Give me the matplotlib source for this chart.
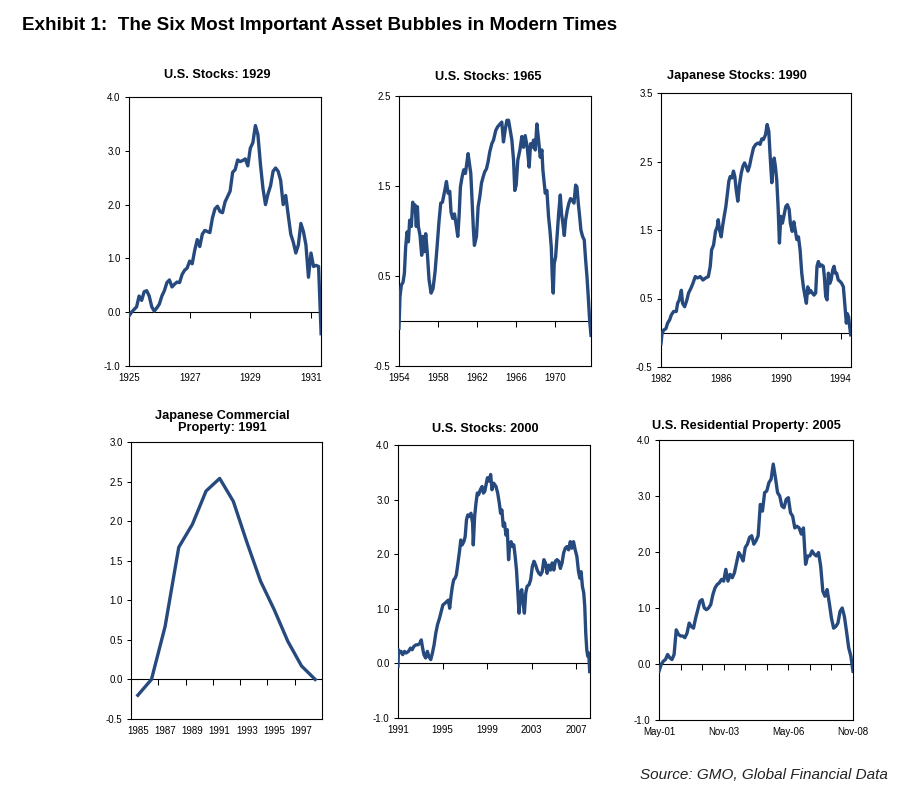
import matplotlib.pyplot as plt
import numpy as np

plt.rcParams['font.family'] = ['Liberation Sans', 'DejaVu Sans']
plt.rcParams['axes.unicode_minus'] = False

LINE = '#264a7e'

# U.S. Stocks: 1929 (monthly, Jan 1925 on)
us1929_start = 1925.0
us1929_vals = [-0.07, 0.0, 0.05, 0.1, 0.3, 0.22, 0.38, 0.4, 0.3, 0.1,
               0.02, 0.08, 0.15, 0.3, 0.4, 0.55, 0.6, 0.47, 0.52, 0.56,
               0.55, 0.7, 0.78, 0.82, 0.95, 0.9, 1.15, 1.35, 1.22, 1.45,
               1.52, 1.5, 1.48, 1.75, 1.92, 1.97, 1.87, 1.85, 2.05, 2.15,
               2.25, 2.6, 2.65, 2.83, 2.8, 2.82, 2.85, 2.72, 3.05, 3.15,
               3.47, 3.3, 2.75, 2.3, 2.0, 2.2, 2.35, 2.62, 2.68, 2.62,
               2.45, 2.0, 2.17, 1.8, 1.45, 1.3, 1.1, 1.25, 1.65, 1.5,
               1.25, 0.65, 1.1, 0.85, 0.87, 0.85, -0.4]

# U.S. Stocks: 1965
us1965_years = [1954.00, 1954.10, 1954.24, 1954.41, 1954.55, 1954.68, 1954.82, 1954.96,
                1955.09, 1955.26, 1955.40, 1955.54, 1955.64, 1955.77, 1955.88, 1955.98,
                1956.15, 1956.32, 1956.46, 1956.59, 1956.73, 1956.90, 1957.07, 1957.28,
                1957.48, 1957.69, 1957.89, 1958.10, 1958.27, 1958.44, 1958.68, 1958.85,
                1959.02, 1959.19, 1959.32, 1959.49, 1959.67, 1959.84, 1960.01, 1960.14,
                1960.28, 1960.45, 1960.62, 1960.79, 1960.93, 1961.06, 1961.20, 1961.34,
                1961.47, 1961.61, 1961.71, 1961.92, 1962.09, 1962.26, 1962.43, 1962.60,
                1962.77, 1962.94, 1963.11, 1963.28,
                1963.49, 1963.66, 1963.90, 1964.10, 1964.34, 1964.51, 1964.68, 1964.85,
                1965.03, 1965.20, 1965.37, 1965.54, 1965.71, 1965.84, 1965.98, 1966.15,
                1966.36, 1966.56, 1966.73, 1966.90, 1967.11, 1967.31, 1967.45, 1967.59,
                1967.76, 1967.93, 1968.10, 1968.27, 1968.44, 1968.61, 1968.71, 1968.85,
                1968.95, 1969.12, 1969.29, 1969.43, 1969.57, 1969.67, 1969.77, 1969.87,
                1970.01, 1970.18, 1970.32, 1970.49, 1970.62, 1970.76, 1970.90, 1971.03,
                1971.20, 1971.37, 1971.54, 1971.72, 1971.89, 1972.06, 1972.19, 1972.33,
                1972.47, 1972.60, 1972.77, 1972.94, 1973.08, 1973.22, 1973.35, 1973.49,
                1973.63]
us1965_vals = [-0.08, 0.27, 0.40, 0.43, 0.53, 0.82, 0.99, 0.88,
               1.12, 1.05, 1.32, 1.23, 1.29, 1.05, 1.27, 1.05,
               0.95, 0.73, 0.94, 0.77, 0.97, 0.75, 0.46, 0.31,
               0.36, 0.55, 0.82, 1.12, 1.31, 1.32, 1.45, 1.55,
               1.42, 1.44, 1.21, 1.14, 1.19, 1.07, 0.94, 1.16,
               1.49, 1.60, 1.68, 1.64, 1.75, 1.86, 1.75, 1.64,
               1.34, 1.01, 0.84, 0.94, 1.27, 1.38, 1.53, 1.60,
               1.66, 1.69, 1.77, 1.88,
               1.97, 2.01, 2.12, 2.16, 2.19, 2.21, 1.99, 2.12,
               2.23, 2.23, 2.12, 2.01, 1.79, 1.45, 1.51, 1.79,
               1.90, 2.05, 1.93, 2.06, 1.93, 1.71, 1.97, 1.93,
               2.01, 1.90, 2.19, 2.01, 1.82, 1.90, 1.68, 1.53,
               1.42, 1.45, 1.16, 1.01, 0.82, 0.49, 0.31, 0.64,
               0.71, 0.97, 1.19, 1.40, 1.19, 1.08, 0.95, 1.12,
               1.23, 1.31, 1.36, 1.34, 1.31, 1.51, 1.49, 1.31,
               1.16, 1.01, 0.94, 0.90, 0.68, 0.49, 0.27, 0.01,
               -0.16]

# Japanese Stocks: 1990
jp1990_years = [1982.00, 1982.07, 1982.18, 1982.33, 1982.44, 1982.58, 1982.69, 1982.84,
                1983.02, 1983.11, 1983.22, 1983.36, 1983.44, 1983.58, 1983.73, 1983.84,
                1984.00, 1984.13, 1984.29, 1984.44, 1984.62, 1984.80, 1984.98, 1985.16,
                1985.29, 1985.38, 1985.51, 1985.64, 1985.76, 1985.82, 1985.91, 1986.02,
                1986.11, 1986.22, 1986.33, 1986.44, 1986.53, 1986.62, 1986.73, 1986.84,
                1986.93, 1987.02, 1987.13, 1987.24, 1987.36, 1987.47, 1987.58, 1987.69,
                1987.80, 1987.91, 1988.02, 1988.18, 1988.33, 1988.49, 1988.62, 1988.73,
                1988.84, 1988.98, 1989.09, 1989.20, 1989.29, 1989.40, 1989.47, 1989.56,
                1989.64, 1989.73, 1989.82, 1989.91, 1990.00, 1990.11, 1990.22, 1990.33,
                1990.44, 1990.56, 1990.64, 1990.76, 1990.87, 1990.98, 1991.07, 1991.18,
                1991.29, 1991.40, 1991.51, 1991.62, 1991.71, 1991.80, 1991.89, 1991.98,
                1992.11, 1992.22, 1992.33, 1992.42, 1992.51, 1992.62, 1992.73, 1992.84,
                1992.91, 1993.00, 1993.09, 1993.18, 1993.27, 1993.36, 1993.47, 1993.56,
                1993.64, 1993.73, 1993.84, 1993.96, 1994.07, 1994.18, 1994.29, 1994.38,
                1994.44, 1994.53, 1994.60, 1994.67]
jp1990_vals = [-0.16, -0.01, 0.04, 0.06, 0.14, 0.19, 0.26, 0.31,
               0.31, 0.43, 0.48, 0.62, 0.43, 0.38, 0.48, 0.58,
               0.65, 0.72, 0.82, 0.80, 0.82, 0.77, 0.80, 0.82,
               0.97, 1.21, 1.28, 1.48, 1.55, 1.65, 1.50, 1.40,
               1.55, 1.70, 1.84, 2.04, 2.21, 2.28, 2.26, 2.36,
               2.28, 2.09, 1.92, 2.16, 2.33, 2.43, 2.48, 2.43,
               2.36, 2.43, 2.55, 2.70, 2.75, 2.77, 2.75, 2.83,
               2.82, 2.89, 3.04, 2.94, 2.58, 2.19, 2.38, 2.55,
               2.43, 2.23, 1.84, 1.31, 1.70, 1.60, 1.72, 1.84,
               1.87, 1.80, 1.60, 1.48, 1.62, 1.48, 1.36, 1.40,
               1.21, 0.87, 0.67, 0.53, 0.43, 0.67, 0.58, 0.62,
               0.58, 0.55, 0.58, 0.97, 1.04, 0.97, 0.99, 0.97,
               0.82, 0.53, 0.48, 0.87, 0.72, 0.77, 0.92, 0.97,
               0.87, 0.87, 0.77, 0.75, 0.72, 0.67, 0.38, 0.14,
               0.28, 0.23, 0.09, -0.03]

# Japanese Commercial Property: 1991 (annual)
jpprop_years = [1985, 1986, 1987, 1988, 1989, 1990, 1991, 1992, 1993, 1994,
                1995, 1996, 1997, 1998]
jpprop_vals = [-0.20, 0.0, 0.67, 1.67, 1.96, 2.38, 2.54, 2.25, 1.73, 1.24,
               0.88, 0.48, 0.17, 0.0]

# U.S. Stocks: 2000
us2000_years = [1991.00, 1991.04, 1991.12, 1991.27, 1991.42, 1991.58, 1991.73, 1991.94,
                1992.12, 1992.27, 1992.42, 1992.61, 1992.79, 1992.97, 1993.09, 1993.21,
                1993.33, 1993.48, 1993.64, 1993.76, 1993.94, 1994.09, 1994.24, 1994.39,
                1994.55, 1994.73, 1994.88, 1995.03, 1995.21, 1995.36, 1995.52, 1995.64,
                1995.76, 1995.88, 1996.00, 1996.12, 1996.24, 1996.36, 1996.52, 1996.64,
                1996.76, 1996.91, 1997.03, 1997.15, 1997.27, 1997.39, 1997.55, 1997.70,
                1997.76, 1997.88, 1998.00, 1998.12, 1998.24, 1998.39, 1998.55, 1998.67,
                1998.79, 1998.91, 1999.03, 1999.17, 1999.32, 1999.44, 1999.59,
                1999.80, 1999.95, 2000.10, 2000.21, 2000.33, 2000.45, 2000.57, 2000.69,
                2000.81, 2000.93, 2001.04, 2001.16, 2001.28, 2001.40, 2001.52, 2001.64,
                2001.76, 2001.87, 2001.99, 2002.11, 2002.23, 2002.35, 2002.47, 2002.59,
                2002.76, 2002.91, 2003.06, 2003.21, 2003.36, 2003.50, 2003.65, 2003.80,
                2003.95, 2004.10, 2004.24, 2004.39, 2004.54, 2004.69, 2004.84, 2004.99,
                2005.13, 2005.28, 2005.43, 2005.58, 2005.73, 2005.87, 2006.02, 2006.17,
                2006.32, 2006.47, 2006.61, 2006.76, 2006.91, 2007.06, 2007.21, 2007.33,
                2007.44, 2007.56, 2007.68, 2007.77, 2007.86, 2007.95, 2008.04, 2008.13,
                2008.21]
us2000_vals = [-0.05, 0.25, 0.19, 0.22, 0.16, 0.22, 0.19, 0.22,
               0.28, 0.25, 0.31, 0.34, 0.34, 0.37, 0.43, 0.28,
               0.16, 0.10, 0.22, 0.13, 0.07, 0.19, 0.34, 0.55,
               0.71, 0.83, 0.95, 1.07, 1.10, 1.13, 1.16, 1.01,
               1.23, 1.41, 1.53, 1.56, 1.62, 1.80, 2.05, 2.26,
               2.17, 2.23, 2.32, 2.63, 2.72, 2.69, 2.75, 2.57,
               2.17, 2.69, 2.93, 3.12, 3.09, 3.18, 3.24, 3.12,
               3.15, 3.27, 3.40, 3.34, 3.46, 3.18, 3.30,
               3.24, 3.12, 2.93, 2.75, 2.81, 2.51, 2.57, 2.35,
               2.45, 1.90, 2.20, 2.23, 2.14, 2.17, 1.96, 1.71,
               1.29, 0.92, 1.29, 1.35, 1.10, 0.92, 1.29, 1.41,
               1.44, 1.53, 1.77, 1.87, 1.80, 1.71, 1.65, 1.62,
               1.68, 1.90, 1.84, 1.65, 1.80, 1.71, 1.84, 1.71,
               1.87, 1.90, 1.87, 1.74, 1.84, 2.02, 2.11, 2.14,
               2.08, 2.23, 2.11, 2.23, 2.08, 1.96, 1.68, 1.56,
               1.68, 1.41, 1.29, 1.04, 0.55, 0.25, 0.13, 0.19,
               -0.15]

# U.S. Residential Property: 2005 (monthly, May-01 to Nov-08)
usres_vals = [-0.13, -0.01, 0.05, 0.08, 0.17, 0.11, 0.08, 0.17, 0.61, 0.53,
              0.50, 0.50, 0.47, 0.55, 0.73, 0.67, 0.64, 0.82, 0.97, 1.12,
              1.15, 1.00, 0.97, 1.00, 1.06, 1.24, 1.36, 1.42, 1.45, 1.51,
              1.48, 1.69, 1.48, 1.60, 1.54, 1.63, 1.81, 1.99, 1.93, 1.84,
              2.08, 2.14, 2.26, 2.29, 2.14, 2.20, 2.29, 2.85, 2.73, 3.06,
              3.09, 3.24, 3.30, 3.57, 3.33, 3.06, 3.00, 2.82, 2.79, 2.94,
              2.97, 2.70, 2.64, 2.43, 2.46, 2.43, 2.32, 2.43, 1.78, 1.93,
              1.93, 2.02, 1.96, 1.93, 1.99, 1.75, 1.30, 1.21, 1.33, 1.09,
              0.82, 0.64, 0.67, 0.73, 0.94, 1.00, 0.85, 0.58, 0.29, 0.14,
              -0.13]
usres_labels = ['May-01', 'Nov-03', 'May-06', 'Nov-08']

fig = plt.figure(figsize=(9.22, 7.89), dpi=100)


def px_axes(l, t, r, b):
    return fig.add_axes([l / 922, 1 - b / 789, (r - l) / 922, (b - t) / 789])


def px_text(x, y, s, **kw):
    fig.text(x / 922, 1 - y / 789, s, **kw)


def setup(ax, xlim, ylim, yticks, xpos, xlabels, zero_ticks):
    ax.set_xlim(*xlim)
    ax.set_ylim(*ylim)
    ax.set_yticks(yticks)
    ax.set_yticklabels(['%.1f' % v for v in yticks])
    ax.set_xticks(xpos)
    ax.set_xticklabels(xlabels)
    ax.tick_params(axis='x', length=0, pad=5, labelsize=7)
    ax.tick_params(axis='y', length=3, width=0.75, pad=3, labelsize=7)
    for sp in ax.spines.values():
        sp.set_linewidth(0.8)
    ax.axhline(0, color='black', lw=0.8, zorder=1)
    # tick marks sit on the zero line, labels stay at the bottom
    frac = (0 - ylim[0]) / (ylim[1] - ylim[0])
    sec = ax.secondary_xaxis(frac)
    sec.set_xticks(zero_ticks)
    sec.tick_params(axis='x', length=4, width=0.75, labelbottom=False, labeltop=False)
    for sp in sec.spines.values():
        sp.set_visible(False)


# panel 1
ax1 = px_axes(129, 97, 321, 366)
x1 = us1929_start + np.arange(len(us1929_vals)) / 12
ax1.plot(x1, us1929_vals, color=LINE, lw=2.4, zorder=3)
setup(ax1, (1925, 1931.33), (-1, 4), np.arange(-1, 4.1, 1),
      [1925, 1927, 1929, 1931], ['1925', '1927', '1929', '1931'], [1927, 1929, 1931])
px_text(217, 75, 'U.S. Stocks: 1929', ha='center', va='center', fontsize=9.2, fontweight='bold')

# panel 2
ax2 = px_axes(399, 96, 591, 366)
ax2.plot(us1965_years, us1965_vals, color=LINE, lw=2.4, zorder=3)
setup(ax2, (1954, 1973.63), (-0.5, 2.5), [-0.5, 0.5, 1.5, 2.5],
      [1954, 1958, 1962, 1966, 1970], ['1954', '1958', '1962', '1966', '1970'],
      [1958, 1962, 1966, 1970])
px_text(488, 77, 'U.S. Stocks: 1965', ha='center', va='center', fontsize=9.2, fontweight='bold')

# panel 3
ax3 = px_axes(661, 93, 851, 367)
ax3.plot(jp1990_years, jp1990_vals, color=LINE, lw=2.4, zorder=3)
setup(ax3, (1982, 1994.69), (-0.5, 3.5), [-0.5, 0.5, 1.5, 2.5, 3.5],
      [1982, 1986, 1990, 1994], ['1982', '1986', '1990', '1994'], [1986, 1990, 1994])
px_text(737, 76, 'Japanese Stocks: 1990', ha='center', va='center', fontsize=9.2, fontweight='bold')

# panel 4
ax4 = px_axes(131, 442, 322, 719)
ax4.plot(jpprop_years, jpprop_vals, color=LINE, lw=2.4, zorder=3)
setup(ax4, (1984.5, 1998.5), (-0.5, 3.0), np.arange(-0.5, 3.01, 0.5),
      jpprop_years[::2], [str(y) for y in jpprop_years[::2]],
      [y + 0.5 for y in jpprop_years[1:-1:2]])
px_text(222, 422, 'Japanese Commercial\nProperty: 1991', ha='center', va='center',
        fontsize=9.2, fontweight='bold', linespacing=1.1)

# panel 5
ax5 = px_axes(398, 445, 590, 718)
ax5.plot(us2000_years, us2000_vals, color=LINE, lw=2.4, zorder=3)
setup(ax5, (1991, 2008.24), (-1, 4), np.arange(-1, 4.1, 1),
      [1991, 1995, 1999, 2003, 2007], ['1991', '1995', '1999', '2003', '2007'],
      [1995, 1999, 2003, 2007])
px_text(485, 429, 'U.S. Stocks: 2000', ha='center', va='center', fontsize=9.2, fontweight='bold')

# panel 6
ax6 = px_axes(659, 440, 853, 720)
x6 = np.arange(len(usres_vals))
ax6.plot(x6, usres_vals, color=LINE, lw=2.4, zorder=3)
setup(ax6, (0, len(usres_vals) - 1), (-1, 4), np.arange(-1, 4.1, 1),
      [0, 30, 60, 90], usres_labels, list(range(10, 90, 10)))
px_text(746, 426, 'U.S. Residential Property: 2005', ha='center', va='center',
        fontsize=9.2, fontweight='bold')

px_text(22, 26, 'Exhibit 1:  The Six Most Important Asset Bubbles in Modern Times',
        ha='left', va='center', fontsize=13.6, fontweight='bold')
px_text(888, 775, 'Source: GMO, Global Financial Data', ha='right', va='center',
        fontsize=11, style='italic', color='#222222')

fig.savefig('out.png', dpi=100)
